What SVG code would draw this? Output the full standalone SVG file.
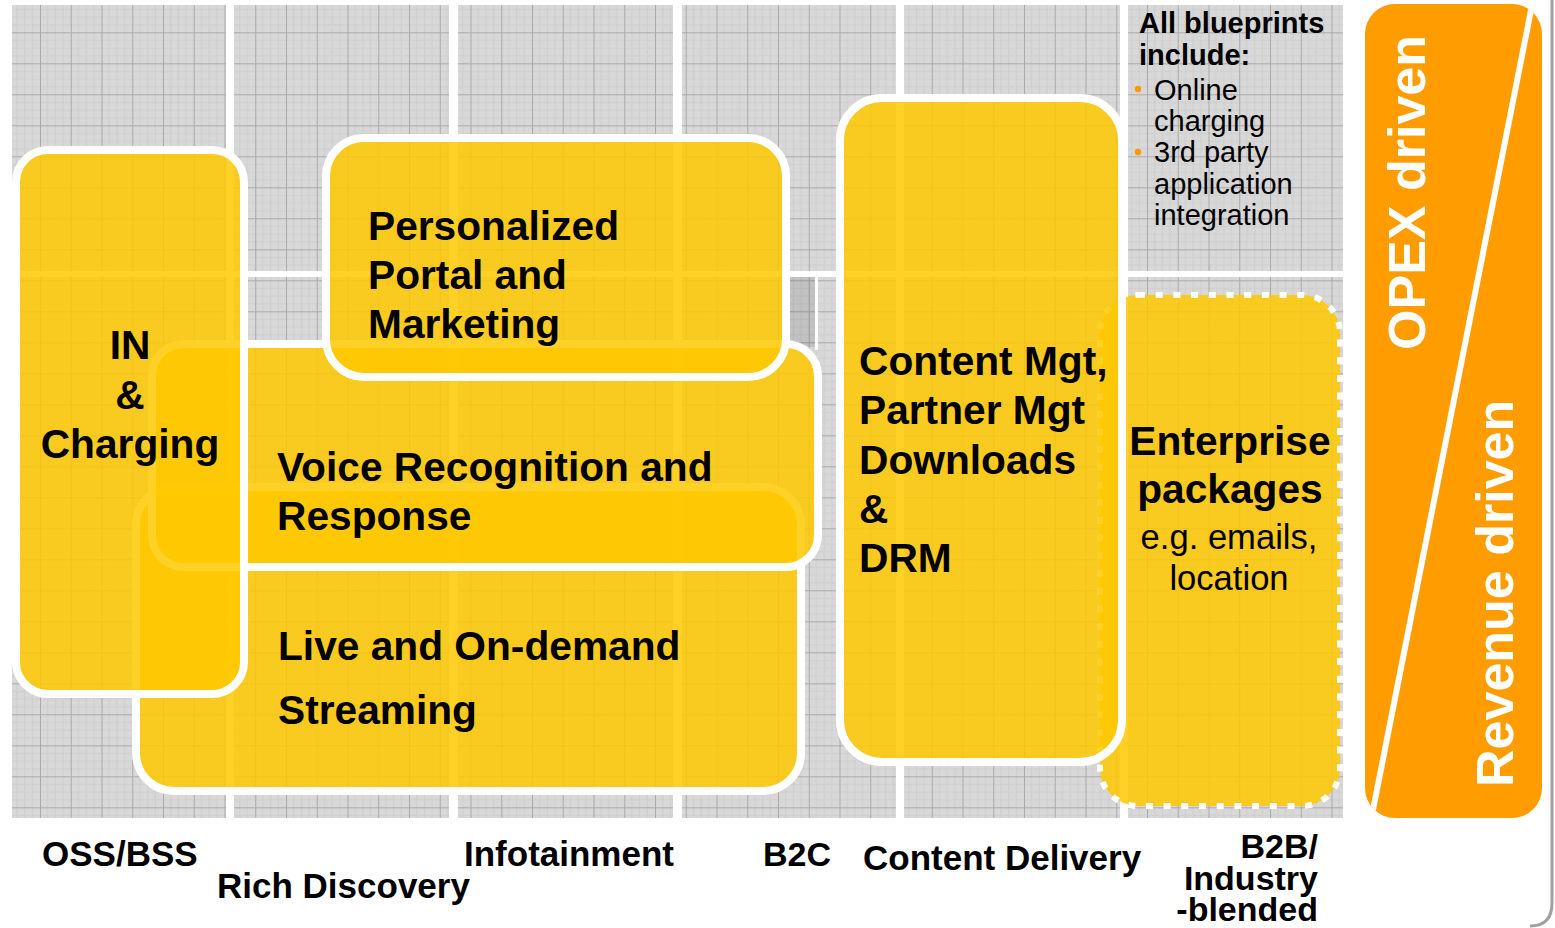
<svg xmlns="http://www.w3.org/2000/svg" width="1555" height="928" viewBox="0 0 1555 928">
<defs>
<pattern id="grid" width="30.75" height="31" patternUnits="userSpaceOnUse" patternTransform="translate(9.25 1.3)">
<rect width="30.75" height="31" fill="#d8d8d8"/>
<path d="M0 8.25H30.75M0 16H30.75M0 23.75H30.75M7.7 0V31M15.4 0V31M23.1 0V31" stroke="#cecece" stroke-width="1"/>
<path d="M0 0.5H30.75M0.5 0V31" stroke="#aaaaaa" stroke-width="1"/>
</pattern>
<clipPath id="orangeClip"><rect x="1365" y="4" width="177" height="814" rx="30"/></clipPath>
<style>
.box{fill:#ffc800;fill-opacity:0.85;stroke:#fff;stroke-width:8}
.dash{fill:#ffc800;fill-opacity:0.85;stroke:#fff;stroke-width:6;stroke-dasharray:7 10.7}
.t{font-family:"Liberation Sans",Arial,Helvetica,sans-serif;font-weight:bold;font-size:40.7px;fill:#000}
.lbl{font-family:"Liberation Sans",Arial,Helvetica,sans-serif;font-weight:bold;font-size:35px;fill:#000}
.n{font-family:"Liberation Sans",Arial,Helvetica,sans-serif;font-size:29px;fill:#000}
.w{font-family:"Liberation Sans",Arial,Helvetica,sans-serif;font-weight:bold;font-size:52px;fill:#fff}
</style>
</defs>
<rect width="1555" height="928" fill="#fff"/>
<path d="M1552 0V903Q1552 926 1530 926" fill="none" stroke="#a0a0a0" stroke-width="3"/>
<g id="background">
<rect x="12" y="5" width="214" height="266" fill="url(#grid)"/>
<rect x="234" y="5" width="215" height="266" fill="url(#grid)"/>
<rect x="458" y="5" width="215" height="266" fill="url(#grid)"/>
<rect x="682" y="5" width="214" height="266" fill="url(#grid)"/>
<rect x="904" y="5" width="216" height="266" fill="url(#grid)"/>
<rect x="1128" y="5" width="215" height="266" fill="url(#grid)"/>
<rect x="12" y="277" width="214" height="541" fill="url(#grid)"/>
<rect x="234" y="277" width="215" height="541" fill="url(#grid)"/>
<rect x="458" y="277" width="215" height="541" fill="url(#grid)"/>
<rect x="682" y="277" width="214" height="541" fill="url(#grid)"/>
<rect x="904" y="277" width="216" height="541" fill="url(#grid)"/>
<rect x="1128" y="277" width="215" height="541" fill="url(#grid)"/>
<rect x="790" y="277" width="25" height="70" fill="#000" fill-opacity="0.1"/>
<line x1="816.5" y1="277" x2="816.5" y2="350" stroke="#fff" stroke-width="3"/>
</g>
<g id="enterprise">
<rect class="dash" x="1100" y="295" width="240" height="511" rx="38"/>
</g>
<g id="content">
<rect class="box" x="840" y="98" width="282" height="664" rx="42"/>
<text class="t" x="859" y="375">Content Mgt,</text>
<text class="t" x="859" y="424">Partner Mgt</text>
<text class="t" x="859" y="474">Downloads</text>
<text class="t" x="859" y="523">&amp;</text>
<text class="t" x="859" y="572">DRM</text>
</g>
<g id="enterprise-text">
<text class="t" x="1230" y="455" text-anchor="middle">Enterprise</text>
<text class="t" x="1230" y="503" text-anchor="middle">packages</text>
<text class="n" x="1229" y="549" text-anchor="middle" style="font-size:34.6px">e.g. emails,</text>
<text class="n" x="1229" y="590" text-anchor="middle" style="font-size:34.6px">location</text>
</g>
<g id="live">
<rect class="box" x="136" y="487" width="665" height="304" rx="38"/>
<text class="t" x="278" y="660">Live and On-demand</text>
<text class="t" x="278" y="724">Streaming</text>
</g>
<g id="voice">
<rect class="box" x="152" y="344" width="666" height="223" rx="32"/>
<text class="t" x="277" y="481">Voice Recognition and</text>
<text class="t" x="277" y="530">Response</text>
</g>
<g id="portal">
<rect class="box" x="326" y="138" width="460" height="239" rx="38"/>
<text class="t" x="368" y="240">Personalized</text>
<text class="t" x="368" y="289">Portal and</text>
<text class="t" x="368" y="338">Marketing</text>
</g>
<g id="in-charging">
<rect class="box" x="16" y="150" width="228" height="544" rx="32"/>
<text class="t" x="130" y="359" text-anchor="middle">IN</text>
<text class="t" x="130" y="409" text-anchor="middle">&amp;</text>
<text class="t" x="130" y="458" text-anchor="middle">Charging</text>
</g>
<g id="blueprints">
<text class="n" x="1139" y="33" style="font-weight:bold">All blueprints</text>
<text class="n" x="1139" y="65" style="font-weight:bold">include:</text>
<circle cx="1138" cy="89" r="3.2" fill="#ff9900"/>
<circle cx="1138" cy="152" r="3.2" fill="#ff9900"/>
<text class="n" x="1154" y="100">Online</text>
<text class="n" x="1154" y="131">charging</text>
<text class="n" x="1154" y="162">3rd party</text>
<text class="n" x="1154" y="194">application</text>
<text class="n" x="1154" y="225">integration</text>
</g>
<g id="driver-panel">
<rect x="1365" y="4" width="177" height="814" rx="30" fill="#ff9c00"/>
<g clip-path="url(#orangeClip)">
<line x1="1533" y1="0" x2="1369" y2="830" stroke="#fff" stroke-width="6"/>
</g>
<text class="w" transform="translate(1425 350) rotate(-90)">OPEX driven</text>
<text class="w" transform="translate(1513 787) rotate(-90)">Revenue driven</text>
</g>
<g id="labels">
<text class="lbl" x="42" y="866">OSS/BSS</text>
<text class="lbl" x="217" y="898">Rich Discovery</text>
<text class="lbl" x="464" y="866">Infotainment</text>
<text class="lbl" x="763" y="866" style="font-size:34px">B2C</text>
<text class="lbl" x="863" y="870">Content Delivery</text>
<text class="lbl" x="1318" y="858" text-anchor="end" style="font-size:34px">B2B/</text>
<text class="lbl" x="1318" y="890" text-anchor="end" style="font-size:34px">Industry</text>
<text class="lbl" x="1318" y="921" text-anchor="end" style="font-size:34px">-blended</text>
</g>
<g id="connectors"></g>
</svg>
